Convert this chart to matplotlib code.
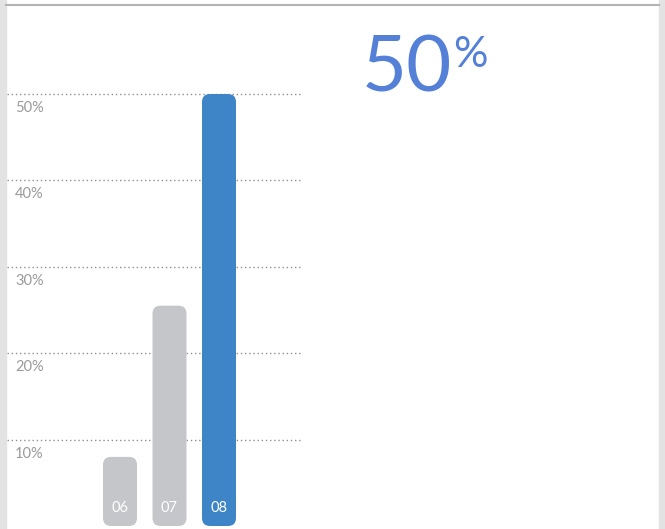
import matplotlib.pyplot as plt
from matplotlib.patches import FancyBboxPatch, Rectangle
from matplotlib.lines import Line2D

# data
years = ["06", "07", "08"]
shares = [8, 25.5, 50]
bar_colors = ["#c5c6ca", "#c5c6ca", "#3d85c6"]
grid_ticks = [10, 20, 30, 40, 50]
headline = "50"

W, H = 665, 529
fig = plt.figure(figsize=(W / 100, H / 100), dpi=100)
fig.patch.set_facecolor("white")

# side strips and top rule of the card
fig.patches.append(Rectangle((0, 0), 6 / W, 1, transform=fig.transFigure,
                             color="#e3e3e3", zorder=0))
fig.patches.append(Rectangle((659 / W, 0), 6 / W, 1, transform=fig.transFigure,
                             color="#e3e3e3", zorder=0))
fig.lines.append(Line2D([6 / W, 659 / W], [1 - 4.5 / H, 1 - 4.5 / H],
                        transform=fig.transFigure, color="#b3b3b3", lw=1.5))

# chart area (pixel box 7..302 wide, full height)
ax_left, ax_w = 7, 295
ax = fig.add_axes([ax_left / W, 0, ax_w / W, 1])
ax.set_axis_off()

px_per_x = 49.5        # pixels between bar centres
px_per_y = 8.64        # pixels per percent
first_center = 113     # px from axes left
base_px = 526          # bar baseline, px from top

ax.set_xlim(-first_center / px_per_x, (ax_w - first_center) / px_per_x)
ax.set_ylim(-(H - base_px) / px_per_y, base_px / px_per_y)

bar_w = 34 / px_per_x
rad = 8 / px_per_x
aspect = px_per_x / px_per_y

for tk in grid_ticks:
    ax.axhline(tk, color="#8f8f8f", lw=1, ls=(0, (1, 2)), zorder=1)
    ax.text(-first_center / px_per_x + 8 / px_per_x, tk - 14 / px_per_y,
            f"{tk}%", color="#9a9a9a", fontsize=10.5, family="Lato",
            va="center", ha="left")

for i, (yr, val, c) in enumerate(zip(years, shares, bar_colors)):
    box = FancyBboxPatch((i - bar_w / 2, 0), bar_w, val,
                         boxstyle=f"round,pad=0,rounding_size={rad}",
                         mutation_aspect=aspect, fc=c, ec="none", zorder=2)
    ax.add_patch(box)
    ax.text(i, 18 / px_per_y, yr, color="white", fontsize=10.5, family="Lato",
            ha="center", va="center", zorder=3)

# headline figure
big = fig.text(362 / W, 1 - 91 / H, headline, color="#5580d8", fontsize=56,
               family="Lato", ha="left", va="baseline")
fig.canvas.draw()
bb = big.get_window_extent()
fig.text((bb.x1 + 0.5) / W, 1 - 67 / H, "%", color="#5580d8", fontsize=31,
         family="Lato", ha="left", va="baseline")

fig.savefig("out.png", dpi=100)
